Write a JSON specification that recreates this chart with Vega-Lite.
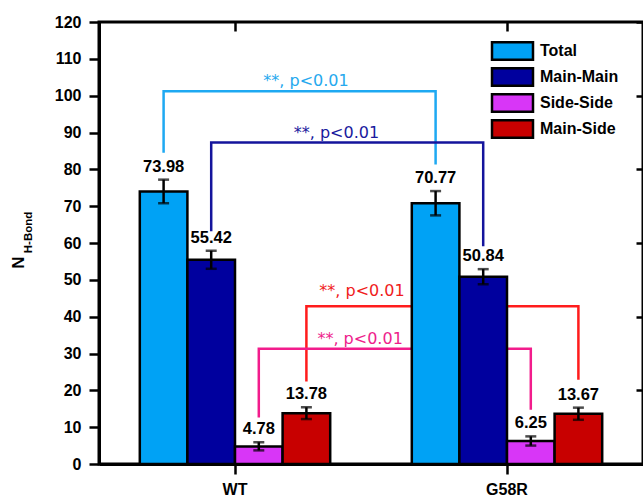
{
  "$schema": "https://vega.github.io/schema/vega-lite/v6.json",
  "width": 544,
  "height": 442,
  "autosize": {"type": "none"},
  "padding": {"left": 99, "top": 22, "right": 0, "bottom": 33},
  "config": {
    "view": {"stroke": "black", "strokeWidth": 3},
    "font": "Liberation Sans",
    "axis": {
      "domainColor": "black",
      "domainWidth": 3,
      "tickColor": "black",
      "tickWidth": 2.5,
      "grid": false,
      "labelColor": "black",
      "labelFont": "Liberation Sans",
      "labelFontWeight": "bold",
      "labelFontSize": 16,
      "titleColor": "black",
      "titleFont": "Liberation Sans",
      "titleFontWeight": "bold"
    }
  },
  "datasets": {
    "hbonds": [
      {"group": "WT", "series": "Total", "value": 73.98, "lo": 70.8, "hi": 77.2},
      {"group": "WT", "series": "Main-Main", "value": 55.42, "lo": 53.0, "hi": 57.9},
      {"group": "WT", "series": "Side-Side", "value": 4.78, "lo": 3.7, "hi": 5.9},
      {"group": "WT", "series": "Main-Side", "value": 13.78, "lo": 12.2, "hi": 15.4},
      {"group": "G58R", "series": "Total", "value": 70.77, "lo": 67.5, "hi": 74.1},
      {"group": "G58R", "series": "Main-Main", "value": 50.84, "lo": 48.8, "hi": 52.9},
      {"group": "G58R", "series": "Side-Side", "value": 6.25, "lo": 5.0, "hi": 7.5},
      {"group": "G58R", "series": "Main-Side", "value": 13.67, "lo": 12.0, "hi": 15.3}
    ],
    "brackets": [
      {"series": "Total", "group": "WT", "step": 0, "y": 84.5},
      {"series": "Total", "group": "WT", "step": 1, "y": 101.2},
      {"series": "Total", "group": "G58R", "step": 2, "y": 101.2},
      {"series": "Total", "group": "G58R", "step": 3, "y": 81.3},
      {"series": "Main-Main", "group": "WT", "step": 0, "y": 63.2},
      {"series": "Main-Main", "group": "WT", "step": 1, "y": 87.3},
      {"series": "Main-Main", "group": "G58R", "step": 2, "y": 87.3},
      {"series": "Main-Main", "group": "G58R", "step": 3, "y": 59.1},
      {"series": "Main-Side", "group": "WT", "step": 0, "y": 22.4},
      {"series": "Main-Side", "group": "WT", "step": 1, "y": 42.8},
      {"series": "Main-Side", "group": "G58R", "step": 2, "y": 42.8},
      {"series": "Main-Side", "group": "G58R", "step": 3, "y": 22.9},
      {"series": "Side-Side", "group": "WT", "step": 0, "y": 12.6},
      {"series": "Side-Side", "group": "WT", "step": 1, "y": 31.3},
      {"series": "Side-Side", "group": "G58R", "step": 2, "y": 31.3},
      {"series": "Side-Side", "group": "G58R", "step": 3, "y": 14.7}
    ],
    "significance": [
      {"series": "Total", "label": "**, p<0.01", "pos": 0.761, "y": 102.5},
      {"series": "Main-Main", "label": "**, p<0.01", "pos": 0.873, "y": 88.5},
      {"series": "Main-Side", "label": "**, p<0.01", "pos": 0.967, "y": 45.5},
      {"series": "Side-Side", "label": "**, p<0.01", "pos": 0.96, "y": 32.7}
    ]
  },
  "layer": [
    {
      "data": {"name": "brackets"},
      "mark": {"type": "line", "strokeWidth": 2.5, "strokeJoin": "miter", "strokeCap": "butt"},
      "encoding": {
        "x": {"field": "group", "type": "nominal", "sort": ["WT", "G58R"], "scale": {"paddingInner": 0.3, "paddingOuter": 0.15}, "axis": null},
        "xOffset": {"field": "series", "type": "nominal", "sort": ["Total", "Main-Main", "Side-Side", "Main-Side"]},
        "y": {"field": "y", "type": "quantitative", "scale": {"domain": [0, 120], "nice": false}, "axis": null},
        "order": {"field": "step", "type": "quantitative"},
        "color": {
          "field": "series", "type": "nominal",
          "scale": {"domain": ["Total", "Main-Main", "Side-Side", "Main-Side"], "range": ["#1EA9F2", "#14149C", "#F21C8C", "#FF1C1C"]},
          "legend": null
        }
      }
    },
    {
      "data": {"name": "hbonds"},
      "mark": {"type": "bar", "stroke": "black", "strokeWidth": 2.5, "opacity": 1},
      "encoding": {
        "x": {
          "field": "group", "type": "nominal", "sort": ["WT", "G58R"],
          "scale": {"paddingInner": 0.3, "paddingOuter": 0.15},
          "axis": {"orient": "bottom", "title": null, "labelAngle": 0, "tickSize": 10, "labelPadding": 7, "labelFontSize": 16}
        },
        "xOffset": {"field": "series", "type": "nominal", "sort": ["Total", "Main-Main", "Side-Side", "Main-Side"]},
        "y": {
          "field": "value", "type": "quantitative",
          "scale": {"domain": [0, 120], "nice": false},
          "axis": {
            "orient": "left", "values": [0, 10, 20, 30, 40, 50, 60, 70, 80, 90, 100, 110, 120],
            "tickSize": 10, "labelPadding": 8,
            "title": "N", "titleFontSize": 17, "titleY": 240, "titlePadding": 27
          }
        },
        "color": {
          "field": "series", "type": "nominal",
          "scale": {"domain": ["Total", "Main-Main", "Side-Side", "Main-Side"], "range": ["#00A2F5", "#00009E", "#D836F7", "#C80000"]},
          "legend": {
            "title": null, "orient": "none", "legendX": 402, "legendY": 17.5, "padding": 0,
            "symbolType": "M-2,-0.85H2V0.85H-2Z", "symbolSize": 420,
            "symbolStrokeColor": "black", "symbolStrokeWidth": 2.5, "symbolOpacity": 1,
            "labelFont": "Liberation Sans", "labelFontWeight": "bold", "labelFontSize": 16,
            "labelColor": "black", "labelOffset": 16, "rowPadding": -17.5
          }
        }
      }
    },
    {
      "data": {"name": "hbonds"},
      "mark": {"type": "rule", "color": "black", "strokeWidth": 2.5},
      "encoding": {
        "x": {"field": "group", "type": "nominal", "sort": ["WT", "G58R"], "scale": {"paddingInner": 0.3, "paddingOuter": 0.15}, "axis": null},
        "xOffset": {"field": "series", "type": "nominal", "sort": ["Total", "Main-Main", "Side-Side", "Main-Side"]},
        "y": {"field": "lo", "type": "quantitative", "axis": null},
        "y2": {"field": "hi"}
      }
    },
    {
      "data": {"name": "hbonds"},
      "mark": {"type": "tick", "color": "black", "size": 11, "thickness": 2.5, "orient": "horizontal"},
      "encoding": {
        "x": {
          "field": "group", "type": "nominal", "sort": ["WT", "G58R"],
          "scale": {"paddingInner": 0.3, "paddingOuter": 0.15},
          "axis": {
            "orient": "top", "labels": false, "domain": false, "tickSize": 9, "offset": -9,
            "title": "H-Bond", "titleFontSize": 11.5, "titleAngle": 270,
            "titleX": -68, "titleY": 201, "titleAlign": "center", "titleBaseline": "alphabetic"
          }
        },
        "xOffset": {"field": "series", "type": "nominal", "sort": ["Total", "Main-Main", "Side-Side", "Main-Side"]},
        "y": {
          "field": "hi", "type": "quantitative",
          "axis": {"orient": "right", "labels": false, "domain": false, "tickSize": 7, "offset": -7, "values": [0, 20, 40, 60, 80, 100, 120], "title": null}
        }
      }
    },
    {
      "data": {"name": "hbonds"},
      "mark": {"type": "tick", "color": "black", "size": 11, "thickness": 2.5, "orient": "horizontal"},
      "encoding": {
        "x": {"field": "group", "type": "nominal", "sort": ["WT", "G58R"], "scale": {"paddingInner": 0.3, "paddingOuter": 0.15}, "axis": null},
        "xOffset": {"field": "series", "type": "nominal", "sort": ["Total", "Main-Main", "Side-Side", "Main-Side"]},
        "y": {"field": "lo", "type": "quantitative", "axis": null}
      }
    },
    {
      "data": {"name": "hbonds"},
      "mark": {"type": "text", "font": "Liberation Sans", "fontWeight": "bold", "fontSize": 16.5, "color": "black", "baseline": "alphabetic", "align": "center", "dy": -8},
      "encoding": {
        "x": {"field": "group", "type": "nominal", "sort": ["WT", "G58R"], "scale": {"paddingInner": 0.3, "paddingOuter": 0.15}, "axis": null},
        "xOffset": {"field": "series", "type": "nominal", "sort": ["Total", "Main-Main", "Side-Side", "Main-Side"]},
        "y": {"field": "hi", "type": "quantitative", "axis": null},
        "text": {"field": "value", "type": "quantitative", "format": ".2f"}
      }
    },
    {
      "data": {"name": "significance"},
      "mark": {"type": "text", "font": "DejaVu Sans", "fontSize": 16, "baseline": "alphabetic", "align": "center"},
      "encoding": {
        "x": {"field": "pos", "type": "quantitative", "scale": {"domain": [0, 2], "nice": false, "zero": false}, "axis": null},
        "y": {"field": "y", "type": "quantitative", "axis": null},
        "text": {"field": "label"},
        "color": {
          "field": "series", "type": "nominal",
          "scale": {"domain": ["Total", "Main-Main", "Side-Side", "Main-Side"], "range": ["#26A9EE", "#1A1A9E", "#EE1E8C", "#F01C1C"]},
          "legend": null
        }
      }
    }
  ],
  "resolve": {
    "scale": {"x": "independent", "color": "independent"},
    "axis": {"x": "independent", "y": "independent"}
  }
}
